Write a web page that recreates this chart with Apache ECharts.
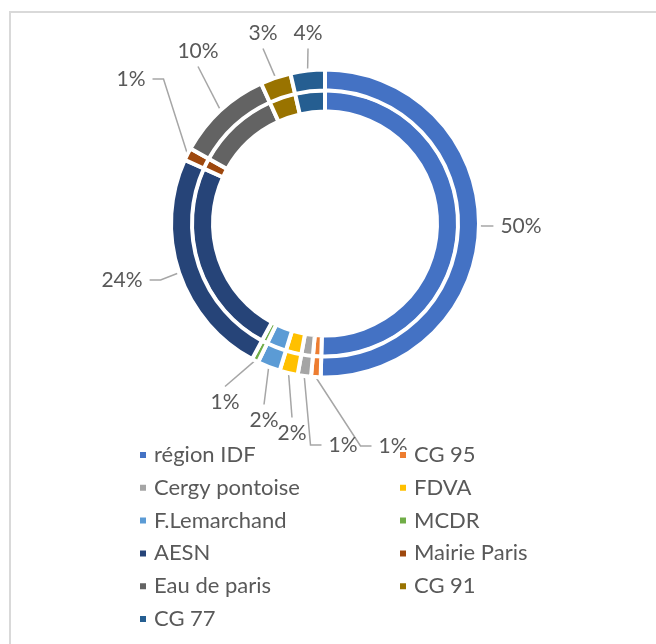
<!DOCTYPE html>
<html>
<head>
<meta charset="utf-8">
<title>Financeurs</title>
<script src="https://cdn.jsdelivr.net/npm/echarts@6/dist/echarts.min.js"></script>
<style>
	html, body { margin: 0; padding: 0; background: #fff; }
	#main { width: 656px; height: 644px; }
</style>
</head>
<body>
<div id="main"></div>
<script>
	// financeurs (ordre du graphique, sens horaire depuis le haut)
	var financeurs = ['région IDF', 'CG 95', 'Cergy pontoise', 'FDVA', 'F.Lemarchand', 'MCDR',
		'AESN', 'Mairie Paris', 'Eau de paris', 'CG 91', 'CG 77'];
	var parts = [50.4, 1.0, 1.4, 1.9, 2.4, 0.7, 23.9, 1.3, 10.1, 3.2, 3.6];
	var couleurs = ['#4472C4', '#ED7D31', '#A5A5A5', '#FFC000', '#5B9BD5', '#70AD47',
		'#264478', '#9E480E', '#636363', '#997300', '#255E91'];

	// place des étiquettes : centre x, y, côté d'accroche du trait
	var etiquettes = [
		[521, 226, 'l'], [393, 446, 'l'], [343, 445, 'l'], [292, 433, 't'],
		[264, 420, 't'], [225, 402, 't'], [122, 280, 'r'], [131, 79, 'r'],
		[198, 51, 'b'], [263, 33, 'b'], [308, 33, 'b']
	];

	var police = 'Lato, "Open Sans", sans-serif';
	var gris = '#595959';

	var donnees = financeurs.map(function(nom, i) {
		return { name: nom, value: parts[i], itemStyle: { color: couleurs[i] } };
	});

	function placer(params) {
		var e = etiquettes[params.dataIndex];
		var w = params.labelRect.width;
		var h = params.labelRect.height;
		var p0 = params.labelLinePoints[0];
		var pts, bx, by;
		if(e[2] == 'l') {
			bx = e[0] - w / 2 - 7;
			pts = [p0, [bx - 11, e[1]], [bx, e[1]]];
		} else if(e[2] == 'r') {
			bx = e[0] + w / 2 + 7;
			pts = [p0, [bx + 11, e[1]], [bx, e[1]]];
		} else if(e[2] == 't') {
			by = e[1] - h / 2 - 5;
			pts = [p0, [e[0], by]];
		} else {
			by = e[1] + h / 2 + 5;
			pts = [p0, [e[0], by]];
		}
		return { x: e[0], y: e[1], align: 'center', verticalAlign: 'middle', labelLinePoints: pts };
	}

	function legende(gauche, pair) {
		return {
			orient: 'vertical',
			left: gauche,
			top: 444,
			padding: 0,
			icon: 'rect',
			itemWidth: 8,
			itemHeight: 8,
			itemGap: 10.8,
			selectedMode: false,
			data: financeurs.filter(function(n, i) { return i % 2 == pair; }),
			textStyle: { color: gris, fontSize: 22, fontFamily: police, lineHeight: 20, padding: [0, 0, 0, 2] }
		};
	}

	var chart = echarts.init(document.getElementById('main'));

	chart.setOption({
		animation: false,
		backgroundColor: '#fff',
		graphic: [{
			type: 'rect',
			shape: { x: 10, y: 12, width: 700, height: 700 },
			style: { fill: 'none', stroke: '#d9d9d9', lineWidth: 2 },
			silent: true
		}],
		legend: [legende(138, 0), legende(398, 1)],
		series: [{
			// anneau intérieur
			type: 'pie',
			center: [325, 223.5],
			radius: [112, 133.5],
			startAngle: 90,
			silent: true,
			emphasis: { disabled: true },
			label: { show: false },
			labelLine: { show: false },
			itemStyle: { borderColor: '#fff', borderWidth: 4 },
			data: donnees
		}, {
			// anneau extérieur avec étiquettes
			type: 'pie',
			center: [325, 223.5],
			radius: [133, 154],
			startAngle: 90,
			silent: true,
			avoidLabelOverlap: false,
			emphasis: { disabled: true },
			itemStyle: { borderColor: '#fff', borderWidth: 4 },
			label: {
				show: true,
				position: 'outside',
				color: gris,
				fontSize: 21,
				fontFamily: police,
				formatter: function(p) { return Math.round(p.percent) + '%'; }
			},
			labelLine: { show: true, length: 15, length2: 10, lineStyle: { color: '#a6a6a6', width: 1.5 } },
			labelLayout: placer,
			data: donnees
		}]
	});
</script>
</body>
</html>
